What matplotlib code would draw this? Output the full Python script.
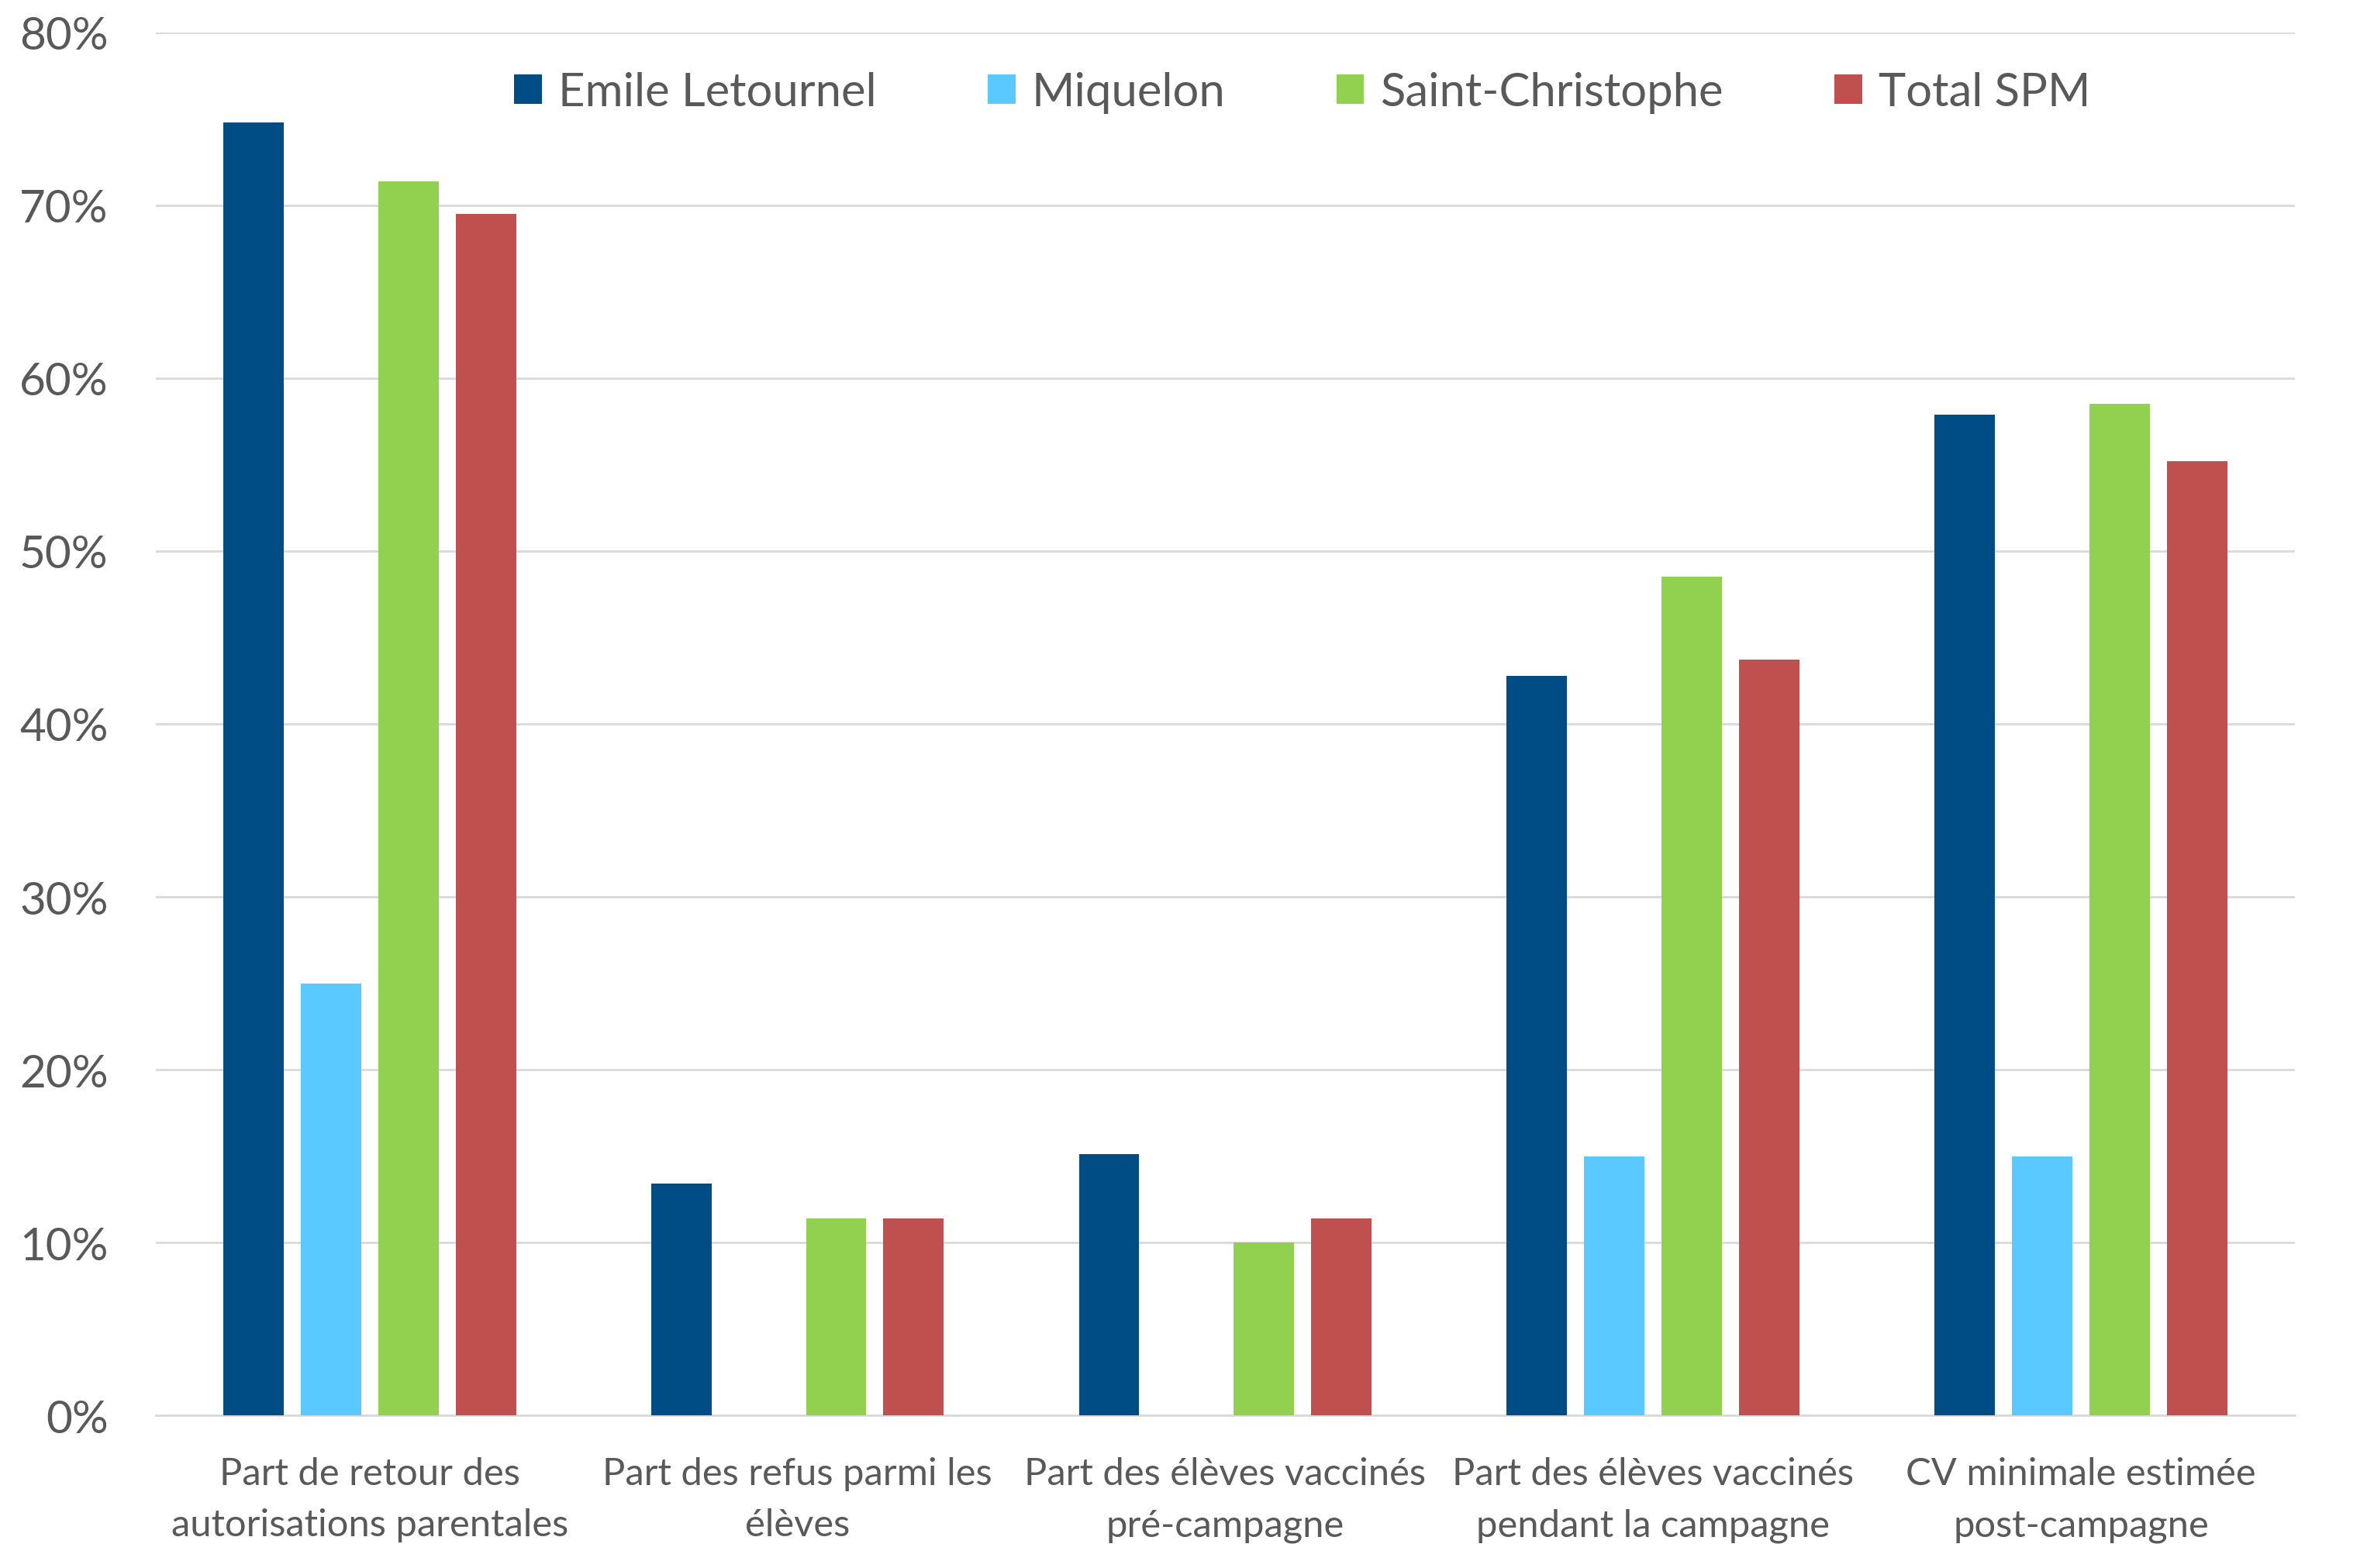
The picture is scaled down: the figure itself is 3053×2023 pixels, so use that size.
import matplotlib
matplotlib.use("Agg")
import matplotlib.pyplot as plt
import numpy as np
from matplotlib.ticker import FuncFormatter

categories = [
    "Part de retour des\nautorisations parentales",
    "Part des refus parmi les\nélèves",
    "Part des élèves vaccinés\npré-campagne",
    "Part des élèves vaccinés\npendant la campagne",
    "CV minimale estimée\npost-campagne",
]
series_names = ["Emile Letournel", "Miquelon", "Saint-Christophe", "Total SPM"]
emile = [74.8, 13.4, 15.1, 42.8, 57.9]
miquelon = [25.0, 0.0, 0.0, 15.0, 15.0]
saint_christophe = [71.4, 11.4, 10.0, 48.5, 58.5]
total_spm = [69.5, 11.4, 11.4, 43.7, 55.2]
yticks = [0, 10, 20, 30, 40, 50, 60, 70, 80]

colors = ["#004C84", "#59C9FF", "#92D050", "#C0504D"]
plt.rcParams['font.family'] = ['Lato', 'DejaVu Sans']
text_color = "#595959"

fig = plt.figure(figsize=(15.265, 10.12), dpi=200)
ax = fig.add_axes([0.0658, 0.0973, 0.9037, 0.8815])

x = np.arange(len(categories))
width = 0.141
step = 0.181
all_series = [emile, miquelon, saint_christophe, total_spm]
for i, (vals, name, c) in enumerate(zip(all_series, series_names, colors)):
    ax.bar(x + (i - 1.5) * step, vals, width, color=c, label=name, zorder=3)

ax.set_xlim(-0.5, len(categories) - 0.5)
ax.set_ylim(0, 80)
ax.set_yticks(yticks)
ax.yaxis.set_major_formatter(FuncFormatter(lambda v, p: f"{int(v)}%"))
ax.grid(axis='y', color="#D9D9D9", linewidth=1.0, zorder=0)
ax.set_axisbelow(True)
for s in ["top", "right", "left"]:
    ax.spines[s].set_visible(False)
ax.spines["bottom"].set_color("#D9D9D9")
ax.spines["bottom"].set_linewidth(1.0)
ax.tick_params(axis='y', length=0, pad=22, labelsize=21, labelcolor=text_color)
ax.tick_params(axis='x', length=0, pad=19, labelsize=17.6, labelcolor=text_color)
ax.set_xticks(x)
ax.set_xticklabels(categories, linespacing=1.62)

leg = ax.legend(loc='center', bbox_to_anchor=(0.536, 0.957), ncol=4, frameon=False,
                fontsize=21.5, handlelength=0.6, handleheight=0.6, handletextpad=0.35,
                columnspacing=2.4, labelcolor=text_color)

fig.savefig("out.png", dpi=200)
